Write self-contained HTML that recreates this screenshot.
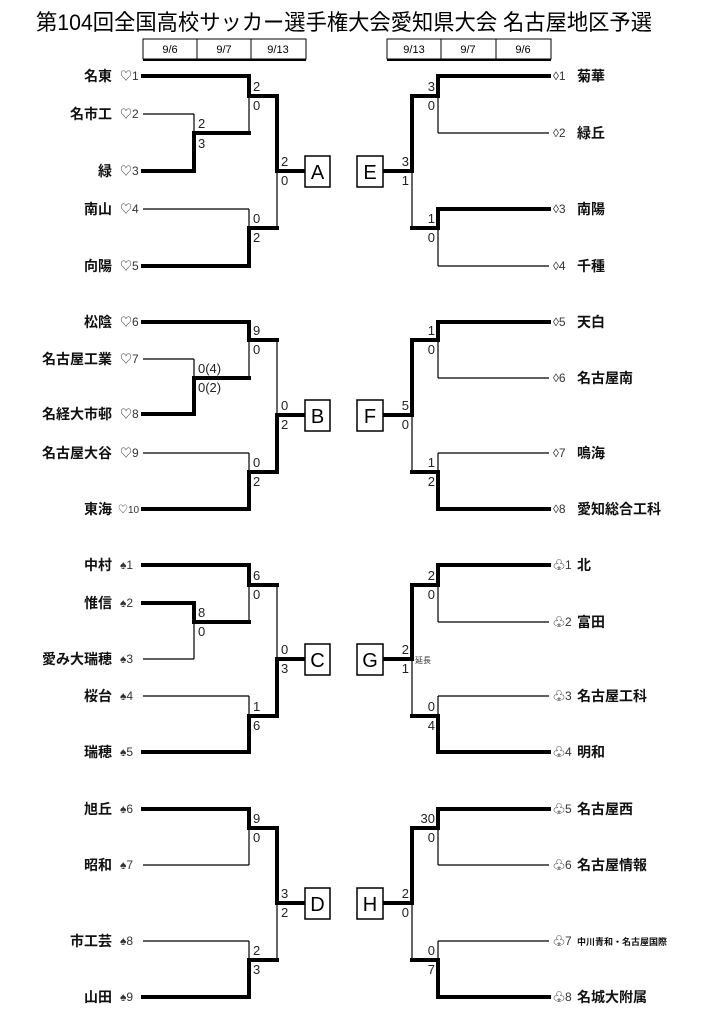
<!DOCTYPE html>
<html><head><meta charset="utf-8"><style>
html,body{margin:0;padding:0;background:#fff;}
svg{display:block;font-family:"Liberation Sans","Noto Sans CJK JP",sans-serif;}
.k{stroke:#000;stroke-width:4;stroke-linecap:square;}
.n{stroke:#000;stroke-width:1.2;}
.nm{font-size:14px;font-weight:bold;fill:#111;}
.mk{font-size:12px;fill:#333;}
.sc{font-size:13px;fill:#222;}
.bx{fill:#fff;stroke:#000;stroke-width:1.5;}
.bl{font-size:20px;fill:#000;text-anchor:middle;}
.dt{font-size:11px;fill:#000;text-anchor:middle;}
</style></head><body>
<svg width="708" height="1024" viewBox="0 0 708 1024">
<text x="344" y="30" font-size="22" text-anchor="middle" textLength="616" lengthAdjust="spacingAndGlyphs">第104回全国高校サッカー選手権大会愛知県大会 名古屋地区予選</text>
<!-- date boxes -->
<g>
<rect x="143" y="39" width="163" height="20" fill="#fff" stroke="#000" stroke-width="1"/>
<line x1="143" y1="60" x2="306" y2="60" stroke="#000" stroke-width="2"/>
<line x1="197" y1="39" x2="197" y2="59" stroke="#000"/><line x1="251" y1="39" x2="251" y2="59" stroke="#000"/>
<text class="dt" x="170" y="53">9/6</text><text class="dt" x="224" y="53">9/7</text><text class="dt" x="278" y="53">9/13</text>
<rect x="387" y="39" width="164" height="20" fill="#fff" stroke="#000" stroke-width="1"/>
<line x1="387" y1="60" x2="551" y2="60" stroke="#000" stroke-width="2"/>
<line x1="441" y1="39" x2="441" y2="59" stroke="#000"/><line x1="496" y1="39" x2="496" y2="59" stroke="#000"/>
<text class="dt" x="414" y="53">9/13</text><text class="dt" x="468" y="53">9/7</text><text class="dt" x="523" y="53">9/6</text>
</g>

<!-- LEFT A -->
<line class="k" x1="143" y1="76" x2="249" y2="76"/><line class="n" x1="143" y1="114" x2="194" y2="114"/><line class="k" x1="143" y1="171" x2="194" y2="171"/><line class="n" x1="143" y1="209" x2="249" y2="209"/><line class="k" x1="143" y1="266" x2="249" y2="266"/>
<line class="n" x1="194" y1="114" x2="194" y2="133"/><line class="k" x1="194" y1="133" x2="194" y2="171"/><line class="k" x1="194" y1="133" x2="249" y2="133"/>
<line class="k" x1="249" y1="76" x2="249" y2="96"/><line class="n" x1="249" y1="96" x2="249" y2="133"/><line class="k" x1="249" y1="96" x2="277" y2="96"/>
<line class="n" x1="249" y1="209" x2="249" y2="228"/><line class="k" x1="249" y1="228" x2="249" y2="266"/><line class="k" x1="249" y1="228" x2="277" y2="228"/>
<line class="k" x1="277" y1="96" x2="277" y2="171"/><line class="n" x1="277" y1="171" x2="277" y2="228"/><line class="k" x1="277" y1="171" x2="305" y2="171"/>
<text class="sc" x="198" y="128">2</text><text class="sc" x="198" y="148">3</text>
<text class="sc" x="253" y="91">2</text><text class="sc" x="253" y="110">0</text>
<text class="sc" x="253" y="223">0</text><text class="sc" x="253" y="242">2</text>
<text class="sc" x="281" y="166">2</text><text class="sc" x="281" y="185">0</text>
<rect class="bx" x="305" y="156" width="25" height="31"/><text class="bl" x="317.5" y="179">A</text>

<!-- LEFT B -->
<line class="k" x1="143" y1="322" x2="249" y2="322"/><line class="n" x1="143" y1="359" x2="194" y2="359"/><line class="k" x1="143" y1="414" x2="194" y2="414"/><line class="n" x1="143" y1="453" x2="249" y2="453"/><line class="k" x1="143" y1="509" x2="249" y2="509"/>
<line class="n" x1="194" y1="359" x2="194" y2="378"/><line class="k" x1="194" y1="378" x2="194" y2="414"/><line class="k" x1="194" y1="378" x2="249" y2="378"/>
<line class="k" x1="249" y1="322" x2="249" y2="340"/><line class="n" x1="249" y1="340" x2="249" y2="378"/><line class="k" x1="249" y1="340" x2="277" y2="340"/>
<line class="n" x1="249" y1="453" x2="249" y2="472"/><line class="k" x1="249" y1="472" x2="249" y2="509"/><line class="k" x1="249" y1="472" x2="277" y2="472"/>
<line class="n" x1="277" y1="340" x2="277" y2="415"/><line class="k" x1="277" y1="415" x2="277" y2="472"/><line class="k" x1="277" y1="415" x2="305" y2="415"/>
<text class="sc" x="198" y="373">0(4)</text><text class="sc" x="198" y="392">0(2)</text>
<text class="sc" x="253" y="335">9</text><text class="sc" x="253" y="354">0</text>
<text class="sc" x="253" y="467">0</text><text class="sc" x="253" y="486">2</text>
<text class="sc" x="281" y="410">0</text><text class="sc" x="281" y="429">2</text>
<rect class="bx" x="305" y="400" width="25" height="31"/><text class="bl" x="317.5" y="423">B</text>

<!-- LEFT C -->
<line class="k" x1="143" y1="565" x2="249" y2="565"/><line class="k" x1="143" y1="603" x2="194" y2="603"/><line class="n" x1="143" y1="659" x2="194" y2="659"/><line class="n" x1="143" y1="696" x2="249" y2="696"/><line class="k" x1="143" y1="752" x2="249" y2="752"/>
<line class="k" x1="194" y1="603" x2="194" y2="622"/><line class="n" x1="194" y1="622" x2="194" y2="659"/><line class="k" x1="194" y1="622" x2="249" y2="622"/>
<line class="k" x1="249" y1="565" x2="249" y2="585"/><line class="n" x1="249" y1="585" x2="249" y2="622"/><line class="k" x1="249" y1="585" x2="277" y2="585"/>
<line class="n" x1="249" y1="696" x2="249" y2="716"/><line class="k" x1="249" y1="716" x2="249" y2="752"/><line class="k" x1="249" y1="716" x2="277" y2="716"/>
<line class="n" x1="277" y1="585" x2="277" y2="659"/><line class="k" x1="277" y1="659" x2="277" y2="716"/><line class="k" x1="277" y1="659" x2="305" y2="659"/>
<text class="sc" x="198" y="617">8</text><text class="sc" x="198" y="636">0</text>
<text class="sc" x="253" y="580">6</text><text class="sc" x="253" y="599">0</text>
<text class="sc" x="253" y="711">1</text><text class="sc" x="253" y="730">6</text>
<text class="sc" x="281" y="654">0</text><text class="sc" x="281" y="673">3</text>
<rect class="bx" x="305" y="644" width="25" height="31"/><text class="bl" x="317.5" y="667">C</text>

<!-- LEFT D -->
<line class="k" x1="143" y1="809" x2="249" y2="809"/><line class="n" x1="143" y1="865" x2="249" y2="865"/><line class="n" x1="143" y1="941" x2="249" y2="941"/><line class="k" x1="143" y1="997" x2="249" y2="997"/>
<line class="k" x1="249" y1="809" x2="249" y2="828"/><line class="n" x1="249" y1="828" x2="249" y2="865"/><line class="k" x1="249" y1="828" x2="277" y2="828"/>
<line class="n" x1="249" y1="941" x2="249" y2="960"/><line class="k" x1="249" y1="960" x2="249" y2="997"/><line class="k" x1="249" y1="960" x2="277" y2="960"/>
<line class="k" x1="277" y1="828" x2="277" y2="903"/><line class="n" x1="277" y1="903" x2="277" y2="960"/><line class="k" x1="277" y1="903" x2="305" y2="903"/>
<text class="sc" x="253" y="823">9</text><text class="sc" x="253" y="842">0</text>
<text class="sc" x="253" y="955">2</text><text class="sc" x="253" y="974">3</text>
<text class="sc" x="281" y="898">3</text><text class="sc" x="281" y="917">2</text>
<rect class="bx" x="305" y="888" width="25" height="31"/><text class="bl" x="317.5" y="911">D</text>

<!-- left names -->
<g class="nm" text-anchor="end">
<text x="112" y="81">名東</text><text x="112" y="119">名市工</text><text x="112" y="176">緑</text><text x="112" y="214">南山</text><text x="112" y="271">向陽</text>
<text x="112" y="327">松陰</text><text x="112" y="364">名古屋工業</text><text x="112" y="419">名経大市邨</text><text x="112" y="458">名古屋大谷</text><text x="112" y="514">東海</text>
<text x="112" y="570">中村</text><text x="112" y="608">惟信</text><text x="112" y="664">愛み大瑞穂</text><text x="112" y="701">桜台</text><text x="112" y="757">瑞穂</text>
<text x="112" y="814">旭丘</text><text x="112" y="870">昭和</text><text x="112" y="946">市工芸</text><text x="112" y="1002">山田</text>
</g>
<g class="mk">
<text x="120" y="80">♡1</text><text x="120" y="118">♡2</text><text x="120" y="175">♡3</text><text x="120" y="213">♡4</text><text x="120" y="270">♡5</text>
<text x="120" y="326">♡6</text><text x="120" y="363">♡7</text><text x="120" y="418">♡8</text><text x="120" y="457">♡9</text><text x="118" y="513" font-size="10">♡10</text>
<text x="120" y="569">♠1</text><text x="120" y="607">♠2</text><text x="120" y="663">♠3</text><text x="120" y="700">♠4</text><text x="120" y="756">♠5</text>
<text x="120" y="813">♠6</text><text x="120" y="869">♠7</text><text x="120" y="945">♠8</text><text x="120" y="1001">♠9</text>
</g>

<!-- RIGHT E -->
<line class="k" x1="438" y1="76" x2="549" y2="76"/><line class="n" x1="438" y1="133" x2="549" y2="133"/><line class="k" x1="438" y1="209" x2="549" y2="209"/><line class="n" x1="438" y1="266" x2="549" y2="266"/>
<line class="k" x1="438" y1="76" x2="438" y2="96"/><line class="n" x1="438" y1="96" x2="438" y2="133"/><line class="k" x1="412" y1="96" x2="438" y2="96"/>
<line class="k" x1="438" y1="209" x2="438" y2="228"/><line class="n" x1="438" y1="228" x2="438" y2="266"/><line class="k" x1="412" y1="228" x2="438" y2="228"/>
<line class="k" x1="412" y1="96" x2="412" y2="171"/><line class="n" x1="412" y1="171" x2="412" y2="228"/><line class="k" x1="383" y1="171" x2="412" y2="171"/>
<g class="sc" text-anchor="end">
<text x="435" y="91">3</text><text x="435" y="110">0</text><text x="435" y="223">1</text><text x="435" y="242">0</text><text x="409" y="166">3</text><text x="409" y="185">1</text>
</g>
<rect class="bx" x="357" y="156" width="26" height="31"/><text class="bl" x="370" y="179">E</text>

<!-- RIGHT F -->
<line class="k" x1="438" y1="322" x2="549" y2="322"/><line class="n" x1="438" y1="378" x2="549" y2="378"/><line class="n" x1="438" y1="453" x2="549" y2="453"/><line class="k" x1="438" y1="509" x2="549" y2="509"/>
<line class="k" x1="438" y1="322" x2="438" y2="340"/><line class="n" x1="438" y1="340" x2="438" y2="378"/><line class="k" x1="412" y1="340" x2="438" y2="340"/>
<line class="n" x1="438" y1="453" x2="438" y2="472"/><line class="k" x1="438" y1="472" x2="438" y2="509"/><line class="k" x1="412" y1="472" x2="438" y2="472"/>
<line class="k" x1="412" y1="340" x2="412" y2="415"/><line class="n" x1="412" y1="415" x2="412" y2="472"/><line class="k" x1="383" y1="415" x2="412" y2="415"/>
<g class="sc" text-anchor="end">
<text x="435" y="335">1</text><text x="435" y="354">0</text><text x="435" y="467">1</text><text x="435" y="486">2</text><text x="409" y="410">5</text><text x="409" y="429">0</text>
</g>
<rect class="bx" x="357" y="400" width="26" height="31"/><text class="bl" x="370" y="423">F</text>

<!-- RIGHT G -->
<line class="k" x1="438" y1="565" x2="549" y2="565"/><line class="n" x1="438" y1="622" x2="549" y2="622"/><line class="n" x1="438" y1="696" x2="549" y2="696"/><line class="k" x1="438" y1="752" x2="549" y2="752"/>
<line class="k" x1="438" y1="565" x2="438" y2="585"/><line class="n" x1="438" y1="585" x2="438" y2="622"/><line class="k" x1="412" y1="585" x2="438" y2="585"/>
<line class="n" x1="438" y1="696" x2="438" y2="716"/><line class="k" x1="438" y1="716" x2="438" y2="752"/><line class="k" x1="412" y1="716" x2="438" y2="716"/>
<line class="k" x1="412" y1="585" x2="412" y2="659"/><line class="n" x1="412" y1="659" x2="412" y2="716"/><line class="k" x1="383" y1="659" x2="412" y2="659"/>
<g class="sc" text-anchor="end">
<text x="435" y="580">2</text><text x="435" y="599">0</text><text x="435" y="711">0</text><text x="435" y="730">4</text><text x="409" y="654">2</text><text x="409" y="673">1</text>
</g>
<text x="415" y="663" font-size="8" fill="#333">延長</text>
<rect class="bx" x="357" y="644" width="26" height="31"/><text class="bl" x="370" y="667">G</text>

<!-- RIGHT H -->
<line class="k" x1="438" y1="809" x2="549" y2="809"/><line class="n" x1="438" y1="865" x2="549" y2="865"/><line class="n" x1="438" y1="941" x2="549" y2="941"/><line class="k" x1="438" y1="997" x2="549" y2="997"/>
<line class="k" x1="438" y1="809" x2="438" y2="828"/><line class="n" x1="438" y1="828" x2="438" y2="865"/><line class="k" x1="412" y1="828" x2="438" y2="828"/>
<line class="n" x1="438" y1="941" x2="438" y2="960"/><line class="k" x1="438" y1="960" x2="438" y2="997"/><line class="k" x1="412" y1="960" x2="438" y2="960"/>
<line class="k" x1="412" y1="828" x2="412" y2="903"/><line class="n" x1="412" y1="903" x2="412" y2="960"/><line class="k" x1="383" y1="903" x2="412" y2="903"/>
<g class="sc" text-anchor="end">
<text x="435" y="823">30</text><text x="435" y="842">0</text><text x="435" y="955">0</text><text x="435" y="974">7</text><text x="409" y="898">2</text><text x="409" y="917">0</text>
</g>
<rect class="bx" x="357" y="888" width="26" height="31"/><text class="bl" x="370" y="911">H</text>

<!-- right markers & names -->
<g class="mk">
<text x="553" y="80">◊1</text><text x="553" y="137">◊2</text><text x="553" y="213">◊3</text><text x="553" y="270">◊4</text>
<text x="553" y="326">◊5</text><text x="553" y="382">◊6</text><text x="553" y="457">◊7</text><text x="553" y="513">◊8</text>
<text x="553" y="569">♧1</text><text x="553" y="626">♧2</text><text x="553" y="700">♧3</text><text x="553" y="756">♧4</text>
<text x="553" y="813">♧5</text><text x="553" y="869">♧6</text><text x="553" y="945">♧7</text><text x="553" y="1001">♧8</text>
</g>
<g class="nm">
<text x="577" y="81">菊華</text><text x="577" y="138">緑丘</text><text x="577" y="214">南陽</text><text x="577" y="271">千種</text>
<text x="577" y="327">天白</text><text x="577" y="383">名古屋南</text><text x="577" y="458">鳴海</text><text x="577" y="514">愛知総合工科</text>
<text x="577" y="570">北</text><text x="577" y="627">富田</text><text x="577" y="701">名古屋工科</text><text x="577" y="757">明和</text>
<text x="577" y="814">名古屋西</text><text x="577" y="870">名古屋情報</text><text x="577" y="945" font-size="9">中川青和・名古屋国際</text><text x="577" y="1002">名城大附属</text>
</g>
</svg>
</body></html>
